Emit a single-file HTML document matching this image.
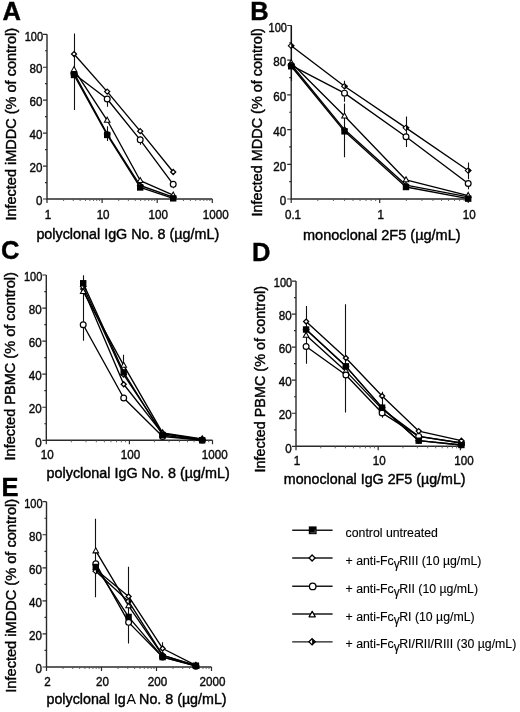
<!DOCTYPE html>
<html><head><meta charset="utf-8"><style>
html,body{margin:0;padding:0;background:#fff;}
svg{display:block;font-family:"Liberation Sans", sans-serif;will-change:transform;}
text{stroke:#000;stroke-width:0.4px;}
.lg text{stroke-width:0.12px;}
</style></head><body>
<svg width="520" height="712" viewBox="0 0 520 712">
<rect width="520" height="712" fill="#fff"/>
<g><path d="M47 34.3V199H212.3" fill="none" stroke="#2a2a2a" stroke-width="1.4"/>
<path d="M47 199H43M47 182.53H45M47 166.06H43M47 149.59H45M47 133.12H43M47 116.65H45M47 100.18H43M47 83.71H45M47 67.24H43M47 50.77H45M47 34.3H43M47 199V203M102.1 199V203M157.2 199V203M212.3 199V203" fill="none" stroke="#2a2a2a" stroke-width="1.2"/>
<path d="M63.59 199V201M73.29 199V201M80.17 199V201M85.51 199V201M89.88 199V201M93.56 199V201M96.76 199V201M99.58 199V201M118.69 199V201M128.39 199V201M135.27 199V201M140.61 199V201M144.98 199V201M148.66 199V201M151.86 199V201M154.68 199V201M173.79 199V201M183.49 199V201M190.37 199V201M195.71 199V201M200.08 199V201M203.76 199V201M206.96 199V201M209.78 199V201" fill="none" stroke="#555" stroke-width="0.9"/>
<g font-size="12.5" fill="#111"><text transform="translate(42.4 205.2) scale(0.93 1)" text-anchor="end">0</text><text transform="translate(42.4 172.26) scale(0.93 1)" text-anchor="end">20</text><text transform="translate(42.4 139.32) scale(0.93 1)" text-anchor="end">40</text><text transform="translate(42.4 106.38) scale(0.93 1)" text-anchor="end">60</text><text transform="translate(42.4 73.44) scale(0.93 1)" text-anchor="end">80</text><text transform="translate(43 40.5) scale(0.88 1)" text-anchor="end">100</text><text transform="translate(48 218.6) scale(0.93 1)" text-anchor="middle">1</text><text transform="translate(103.1 218.6) scale(0.93 1)" text-anchor="middle">10</text><text transform="translate(158.2 218.6) scale(0.93 1)" text-anchor="middle">100</text><text transform="translate(215.8 218.6) scale(0.93 1)" text-anchor="middle">1000</text></g>
<text x="36.4" y="238.6" font-size="13.8" textLength="182.8" lengthAdjust="spacingAndGlyphs">polyclonal IgG No. 8 (µg/mL)</text>
<text transform="translate(16.2 220.6) rotate(-90)" font-size="13.8" textLength="192.6" lengthAdjust="spacingAndGlyphs">Infected iMDDC (% of control)</text>
<text x="2.6" y="19.7" font-size="25.5" font-weight="bold">A</text>
<path d="M74.5 33.48V110.06M107.5 98.53V106.77M107.5 126.2V141.03M140.5 136.41V144.65M173.5 180.88V188.29" fill="none" stroke="#111" stroke-width="1.1"/>
<polyline points="74,73.83 107.2,99.03 140.2,139.87 173.2,184.34" fill="none" stroke="#000" stroke-width="1.35" stroke-linejoin="round"/>
<polyline points="74,54.06 107.2,91.62 140.2,131.14 173.2,171.99" fill="none" stroke="#000" stroke-width="1.35" stroke-linejoin="round"/>
<polyline points="74,73 107.2,133.94 140.2,185.49 173.2,197.02" fill="none" stroke="#000" stroke-width="1.35" stroke-linejoin="round"/>
<polyline points="74,69.71 107.2,120.27 140.2,180.55 173.2,195.21" fill="none" stroke="#000" stroke-width="1.35" stroke-linejoin="round"/>
<polyline points="74,74.98 107.2,134.93 140.2,187.47 173.2,198.34" fill="none" stroke="#000" stroke-width="1.35" stroke-linejoin="round"/>
<circle cx="74" cy="73.83" r="2.9" fill="#fff" stroke="#000" stroke-width="1.2"/>
<circle cx="107.2" cy="99.03" r="2.9" fill="#fff" stroke="#000" stroke-width="1.2"/>
<circle cx="140.2" cy="139.87" r="2.9" fill="#fff" stroke="#000" stroke-width="1.2"/>
<circle cx="173.2" cy="184.34" r="2.9" fill="#fff" stroke="#000" stroke-width="1.2"/>
<path d="M74 51.56L76.5 54.06L74 56.56L71.5 54.06Z" fill="#fff" stroke="#000" stroke-width="1.3"/>
<path d="M107.2 89.12L109.7 91.62L107.2 94.12L104.7 91.62Z" fill="#fff" stroke="#000" stroke-width="1.3"/>
<path d="M140.2 128.64L142.7 131.14L140.2 133.64L137.7 131.14Z" fill="#fff" stroke="#000" stroke-width="1.3"/>
<path d="M173.2 169.49L175.7 171.99L173.2 174.49L170.7 171.99Z" fill="#fff" stroke="#000" stroke-width="1.3"/>
<path d="M74 70.3L76.9 73L74 75.7L71.1 73Z" fill="#fff" stroke="#000" stroke-width="1.05"/><path d="M74 70.3L76.9 73L74 75.7Z" fill="#000"/>
<path d="M107.2 131.24L110.1 133.94L107.2 136.64L104.3 133.94Z" fill="#fff" stroke="#000" stroke-width="1.05"/><path d="M107.2 131.24L110.1 133.94L107.2 136.64Z" fill="#000"/>
<path d="M140.2 182.79L143.1 185.49L140.2 188.19L137.3 185.49Z" fill="#fff" stroke="#000" stroke-width="1.05"/><path d="M140.2 182.79L143.1 185.49L140.2 188.19Z" fill="#000"/>
<path d="M173.2 194.32L176.1 197.02L173.2 199.72L170.3 197.02Z" fill="#fff" stroke="#000" stroke-width="1.05"/><path d="M173.2 194.32L176.1 197.02L173.2 199.72Z" fill="#000"/>
<path d="M74 66.61L76.8 71.61L71.2 71.61Z" fill="#fff" stroke="#000" stroke-width="1.05" stroke-linejoin="miter"/>
<path d="M107.2 117.17L110 122.17L104.4 122.17Z" fill="#fff" stroke="#000" stroke-width="1.05" stroke-linejoin="miter"/>
<path d="M140.2 177.45L143 182.45L137.4 182.45Z" fill="#fff" stroke="#000" stroke-width="1.05" stroke-linejoin="miter"/>
<path d="M173.2 192.11L176 197.11L170.4 197.11Z" fill="#fff" stroke="#000" stroke-width="1.05" stroke-linejoin="miter"/>
<rect x="70.8" y="71.78" width="6.4" height="6.4" fill="#000"/>
<rect x="104" y="131.73" width="6.4" height="6.4" fill="#000"/>
<rect x="137" y="184.27" width="6.4" height="6.4" fill="#000"/>
<rect x="170" y="195.14" width="6.4" height="6.4" fill="#000"/></g>
<g><path d="M291.2 25.5V199H468.2" fill="none" stroke="#2a2a2a" stroke-width="1.4"/>
<path d="M291.2 199H287.2M291.2 181.65H289.2M291.2 164.3H287.2M291.2 146.95H289.2M291.2 129.6H287.2M291.2 112.25H289.2M291.2 94.9H287.2M291.2 77.55H289.2M291.2 60.2H287.2M291.2 42.85H289.2M291.2 25.5H287.2M291.2 199V203M379.7 199V203M468.2 199V203" fill="none" stroke="#2a2a2a" stroke-width="1.2"/>
<path d="M317.84 199V201M333.43 199V201M344.48 199V201M353.06 199V201M360.07 199V201M365.99 199V201M371.12 199V201M375.65 199V201M406.34 199V201M421.93 199V201M432.98 199V201M441.56 199V201M448.57 199V201M454.49 199V201M459.62 199V201M464.15 199V201" fill="none" stroke="#555" stroke-width="0.9"/>
<g font-size="12.5" fill="#111"><text transform="translate(286.3 205.2) scale(0.93 1)" text-anchor="end">0</text><text transform="translate(286.3 170.5) scale(0.93 1)" text-anchor="end">20</text><text transform="translate(286.3 135.8) scale(0.93 1)" text-anchor="end">40</text><text transform="translate(286.3 101.1) scale(0.93 1)" text-anchor="end">60</text><text transform="translate(286.3 66.4) scale(0.93 1)" text-anchor="end">80</text><text transform="translate(286.9 31.7) scale(0.88 1)" text-anchor="end">100</text><text transform="translate(293 218.6) scale(0.93 1)" text-anchor="middle">0.1</text><text transform="translate(380.7 218.6) scale(0.93 1)" text-anchor="middle">1</text><text transform="translate(469.2 218.6) scale(0.93 1)" text-anchor="middle">10</text></g>
<text x="303" y="239.5" font-size="13.8" textLength="157.6" lengthAdjust="spacingAndGlyphs">monoclonal 2F5 (µg/mL)</text>
<text transform="translate(262 216.5) rotate(-90)" font-size="13.8" textLength="188.4" lengthAdjust="spacingAndGlyphs">Infected MDDC (% of control)</text>
<text x="250.3" y="19.8" font-size="25.5" font-weight="bold">B</text>
<path d="M291.5 25.5V81.02M344.5 80.67V86.22M344.5 96.63V101.84M344.5 105.31V119.19M344.5 103.57V157.36M406.5 116.59V146.95M468.5 162.56V179.22M468.5 185.99V189.28" fill="none" stroke="#111" stroke-width="1.1"/>
<polyline points="291.2,64.54 344.5,129.6 406,185.12 468.2,196.92" fill="none" stroke="#000" stroke-width="1.35" stroke-linejoin="round"/>
<polyline points="291.2,62.8 344.5,116.07 406,179.91 468.2,195.53" fill="none" stroke="#000" stroke-width="1.35" stroke-linejoin="round"/>
<polyline points="291.2,65.41 344.5,93.16 406,136.71 468.2,183.56" fill="none" stroke="#000" stroke-width="1.35" stroke-linejoin="round"/>
<polyline points="291.2,45.8 344.5,86.22 406,127.86 468.2,170.55" fill="none" stroke="#000" stroke-width="1.35" stroke-linejoin="round"/>
<polyline points="291.2,66.27 344.5,131.33 406,187.03 468.2,198.65" fill="none" stroke="#000" stroke-width="1.35" stroke-linejoin="round"/>
<path d="M291.2 62.04L293.7 64.54L291.2 67.04L288.7 64.54Z" fill="#fff" stroke="#000" stroke-width="1.3"/>
<path d="M344.5 127.1L347 129.6L344.5 132.1L342 129.6Z" fill="#fff" stroke="#000" stroke-width="1.3"/>
<path d="M406 182.62L408.5 185.12L406 187.62L403.5 185.12Z" fill="#fff" stroke="#000" stroke-width="1.3"/>
<path d="M468.2 194.42L470.7 196.92L468.2 199.42L465.7 196.92Z" fill="#fff" stroke="#000" stroke-width="1.3"/>
<path d="M291.2 59.7L294 64.7L288.4 64.7Z" fill="#fff" stroke="#000" stroke-width="1.05" stroke-linejoin="miter"/>
<path d="M344.5 112.97L347.3 117.97L341.7 117.97Z" fill="#fff" stroke="#000" stroke-width="1.05" stroke-linejoin="miter"/>
<path d="M406 176.81L408.8 181.81L403.2 181.81Z" fill="#fff" stroke="#000" stroke-width="1.05" stroke-linejoin="miter"/>
<path d="M468.2 192.43L471 197.43L465.4 197.43Z" fill="#fff" stroke="#000" stroke-width="1.05" stroke-linejoin="miter"/>
<circle cx="291.2" cy="65.41" r="2.9" fill="#fff" stroke="#000" stroke-width="1.2"/>
<circle cx="344.5" cy="93.16" r="2.9" fill="#fff" stroke="#000" stroke-width="1.2"/>
<circle cx="406" cy="136.71" r="2.9" fill="#fff" stroke="#000" stroke-width="1.2"/>
<circle cx="468.2" cy="183.56" r="2.9" fill="#fff" stroke="#000" stroke-width="1.2"/>
<path d="M291.2 43.1L294.1 45.8L291.2 48.5L288.3 45.8Z" fill="#fff" stroke="#000" stroke-width="1.05"/><path d="M291.2 43.1L294.1 45.8L291.2 48.5Z" fill="#000"/>
<path d="M344.5 83.52L347.4 86.22L344.5 88.92L341.6 86.22Z" fill="#fff" stroke="#000" stroke-width="1.05"/><path d="M344.5 83.52L347.4 86.22L344.5 88.92Z" fill="#000"/>
<path d="M406 125.16L408.9 127.86L406 130.56L403.1 127.86Z" fill="#fff" stroke="#000" stroke-width="1.05"/><path d="M406 125.16L408.9 127.86L406 130.56Z" fill="#000"/>
<path d="M468.2 167.85L471.1 170.55L468.2 173.25L465.3 170.55Z" fill="#fff" stroke="#000" stroke-width="1.05"/><path d="M468.2 167.85L471.1 170.55L468.2 173.25Z" fill="#000"/>
<rect x="288" y="63.07" width="6.4" height="6.4" fill="#000"/>
<rect x="341.3" y="128.13" width="6.4" height="6.4" fill="#000"/>
<rect x="402.8" y="183.83" width="6.4" height="6.4" fill="#000"/>
<rect x="465" y="195.45" width="6.4" height="6.4" fill="#000"/></g>
<g><path d="M46.3 275V440.3H212.5" fill="none" stroke="#2a2a2a" stroke-width="1.4"/>
<path d="M46.3 440.3H42.3M46.3 423.77H44.3M46.3 407.24H42.3M46.3 390.71H44.3M46.3 374.18H42.3M46.3 357.65H44.3M46.3 341.12H42.3M46.3 324.59H44.3M46.3 308.06H42.3M46.3 291.53H44.3M46.3 275H42.3M46.3 440.3V444.3M129.4 440.3V444.3M212.5 440.3V444.3" fill="none" stroke="#2a2a2a" stroke-width="1.2"/>
<path d="M71.32 440.3V442.3M85.95 440.3V442.3M96.33 440.3V442.3M104.38 440.3V442.3M110.96 440.3V442.3M116.53 440.3V442.3M121.35 440.3V442.3M125.6 440.3V442.3M154.42 440.3V442.3M169.05 440.3V442.3M179.43 440.3V442.3M187.48 440.3V442.3M194.06 440.3V442.3M199.63 440.3V442.3M204.45 440.3V442.3M208.7 440.3V442.3" fill="none" stroke="#555" stroke-width="0.9"/>
<g font-size="12.5" fill="#111"><text transform="translate(41.7 446.5) scale(0.93 1)" text-anchor="end">0</text><text transform="translate(41.7 413.44) scale(0.93 1)" text-anchor="end">20</text><text transform="translate(41.7 380.38) scale(0.93 1)" text-anchor="end">40</text><text transform="translate(41.7 347.32) scale(0.93 1)" text-anchor="end">60</text><text transform="translate(41.7 314.26) scale(0.93 1)" text-anchor="end">80</text><text transform="translate(42.3 281.2) scale(0.88 1)" text-anchor="end">100</text><text transform="translate(47.3 459.2) scale(0.93 1)" text-anchor="middle">10</text><text transform="translate(130.4 459.2) scale(0.93 1)" text-anchor="middle">100</text><text transform="translate(214.7 459.2) scale(0.93 1)" text-anchor="middle">1000</text></g>
<text x="46.5" y="477.5" font-size="13.8" textLength="183.3" lengthAdjust="spacingAndGlyphs">polyclonal IgG No. 8 (µg/mL)</text>
<text transform="translate(14.9 460.5) rotate(-90)" font-size="13.8" textLength="188.3" lengthAdjust="spacingAndGlyphs">Infected PBMC (% of control)</text>
<text x="0.9" y="258.8" font-size="25.5" font-weight="bold">C</text>
<path d="M83.5 275.33V340.79M123.5 354.84V365.92M202.5 436.99V440.3" fill="none" stroke="#111" stroke-width="1.1"/>
<polyline points="83.2,324.76 123.7,397.98 162.6,436.5 202.2,439.97" fill="none" stroke="#000" stroke-width="1.35" stroke-linejoin="round"/>
<polyline points="83.2,289.05 123.7,384.26 162.6,433.69 202.2,439.31" fill="none" stroke="#000" stroke-width="1.35" stroke-linejoin="round"/>
<polyline points="83.2,291.53 123.7,365.42 162.6,432.86 202.2,438.98" fill="none" stroke="#000" stroke-width="1.35" stroke-linejoin="round"/>
<polyline points="83.2,286.57 123.7,374.51 162.6,433.36 202.2,439.8" fill="none" stroke="#000" stroke-width="1.35" stroke-linejoin="round"/>
<polyline points="83.2,283.26 123.7,372.36 162.6,435.01 202.2,440.3" fill="none" stroke="#000" stroke-width="1.35" stroke-linejoin="round"/>
<circle cx="83.2" cy="324.76" r="2.9" fill="#fff" stroke="#000" stroke-width="1.2"/>
<circle cx="123.7" cy="397.98" r="2.9" fill="#fff" stroke="#000" stroke-width="1.2"/>
<circle cx="162.6" cy="436.5" r="2.9" fill="#fff" stroke="#000" stroke-width="1.2"/>
<circle cx="202.2" cy="439.97" r="2.9" fill="#fff" stroke="#000" stroke-width="1.2"/>
<path d="M83.2 286.55L85.7 289.05L83.2 291.55L80.7 289.05Z" fill="#fff" stroke="#000" stroke-width="1.3"/>
<path d="M123.7 381.76L126.2 384.26L123.7 386.76L121.2 384.26Z" fill="#fff" stroke="#000" stroke-width="1.3"/>
<path d="M162.6 431.19L165.1 433.69L162.6 436.19L160.1 433.69Z" fill="#fff" stroke="#000" stroke-width="1.3"/>
<path d="M202.2 436.81L204.7 439.31L202.2 441.81L199.7 439.31Z" fill="#fff" stroke="#000" stroke-width="1.3"/>
<path d="M83.2 288.43L86 293.43L80.4 293.43Z" fill="#fff" stroke="#000" stroke-width="1.05" stroke-linejoin="miter"/>
<path d="M123.7 362.32L126.5 367.32L120.9 367.32Z" fill="#fff" stroke="#000" stroke-width="1.05" stroke-linejoin="miter"/>
<path d="M162.6 429.76L165.4 434.76L159.8 434.76Z" fill="#fff" stroke="#000" stroke-width="1.05" stroke-linejoin="miter"/>
<path d="M202.2 435.88L205 440.88L199.4 440.88Z" fill="#fff" stroke="#000" stroke-width="1.05" stroke-linejoin="miter"/>
<path d="M83.2 283.87L86.1 286.57L83.2 289.27L80.3 286.57Z" fill="#fff" stroke="#000" stroke-width="1.05"/><path d="M83.2 283.87L86.1 286.57L83.2 289.27Z" fill="#000"/>
<path d="M123.7 371.81L126.6 374.51L123.7 377.21L120.8 374.51Z" fill="#fff" stroke="#000" stroke-width="1.05"/><path d="M123.7 371.81L126.6 374.51L123.7 377.21Z" fill="#000"/>
<path d="M162.6 430.66L165.5 433.36L162.6 436.06L159.7 433.36Z" fill="#fff" stroke="#000" stroke-width="1.05"/><path d="M162.6 430.66L165.5 433.36L162.6 436.06Z" fill="#000"/>
<path d="M202.2 437.1L205.1 439.8L202.2 442.5L199.3 439.8Z" fill="#fff" stroke="#000" stroke-width="1.05"/><path d="M202.2 437.1L205.1 439.8L202.2 442.5Z" fill="#000"/>
<rect x="80" y="280.06" width="6.4" height="6.4" fill="#000"/>
<rect x="120.5" y="369.16" width="6.4" height="6.4" fill="#000"/>
<rect x="159.4" y="431.81" width="6.4" height="6.4" fill="#000"/>
<rect x="199" y="437.1" width="6.4" height="6.4" fill="#000"/></g>
<g><path d="M296 281.1V446.3H460.4" fill="none" stroke="#2a2a2a" stroke-width="1.4"/>
<path d="M296 446.3H292M296 429.78H294M296 413.26H292M296 396.74H294M296 380.22H292M296 363.7H294M296 347.18H292M296 330.66H294M296 314.14H292M296 297.62H294M296 281.1H292M296 446.3V450.3M378.2 446.3V450.3M460.4 446.3V450.3" fill="none" stroke="#2a2a2a" stroke-width="1.2"/>
<path d="M320.74 446.3V448.3M335.22 446.3V448.3M345.49 446.3V448.3M353.46 446.3V448.3M359.96 446.3V448.3M365.47 446.3V448.3M370.23 446.3V448.3M374.44 446.3V448.3M402.94 446.3V448.3M417.42 446.3V448.3M427.69 446.3V448.3M435.66 446.3V448.3M442.16 446.3V448.3M447.67 446.3V448.3M452.43 446.3V448.3M456.64 446.3V448.3" fill="none" stroke="#555" stroke-width="0.9"/>
<g font-size="12.5" fill="#111"><text transform="translate(291.6 452.5) scale(0.93 1)" text-anchor="end">0</text><text transform="translate(291.6 419.46) scale(0.93 1)" text-anchor="end">20</text><text transform="translate(291.6 386.42) scale(0.93 1)" text-anchor="end">40</text><text transform="translate(291.6 353.38) scale(0.93 1)" text-anchor="end">60</text><text transform="translate(291.6 320.34) scale(0.93 1)" text-anchor="end">80</text><text transform="translate(292.2 287.3) scale(0.88 1)" text-anchor="end">100</text><text transform="translate(297 464.5) scale(0.93 1)" text-anchor="middle">1</text><text transform="translate(379.2 464.5) scale(0.93 1)" text-anchor="middle">10</text><text transform="translate(463.9 464.5) scale(0.93 1)" text-anchor="middle">100</text></g>
<text x="283.8" y="484.2" font-size="13.8" textLength="181.8" lengthAdjust="spacingAndGlyphs">monoclonal IgG 2F5 (µg/mL)</text>
<text transform="translate(264.5 472.5) rotate(-90)" font-size="13.8" textLength="186.5" lengthAdjust="spacingAndGlyphs">Infected PBMC (% of control)</text>
<text x="252" y="260.8" font-size="25.5" font-weight="bold">D</text>
<path d="M306.5 305.88V363.7M345.5 304.23V412.6M382.5 391.78V417.72M418.5 428.95V443.82M461.5 439.69V446.3" fill="none" stroke="#111" stroke-width="1.1"/>
<polyline points="306.1,329.5 345.9,366.34 382.1,407.64 418.7,440.68 461.4,444.98" fill="none" stroke="#000" stroke-width="1.35" stroke-linejoin="round"/>
<polyline points="306.1,335.29 345.9,371.13 382.1,409.13 418.7,436.39 461.4,443" fill="none" stroke="#000" stroke-width="1.35" stroke-linejoin="round"/>
<polyline points="306.1,346.52 345.9,374.93 382.1,412.93 418.7,436.39 461.4,443" fill="none" stroke="#000" stroke-width="1.35" stroke-linejoin="round"/>
<polyline points="306.1,329.5 345.9,366.34 382.1,407.64 418.7,440.68 461.4,444.98" fill="none" stroke="#000" stroke-width="1.35" stroke-linejoin="round"/>
<polyline points="306.1,321.57 345.9,358.08 382.1,396.08 418.7,431.1 461.4,440.68" fill="none" stroke="#000" stroke-width="1.35" stroke-linejoin="round"/>
<path d="M306.1 326.8L309 329.5L306.1 332.2L303.2 329.5Z" fill="#fff" stroke="#000" stroke-width="1.05"/><path d="M306.1 326.8L309 329.5L306.1 332.2Z" fill="#000"/>
<path d="M345.9 363.64L348.8 366.34L345.9 369.04L343 366.34Z" fill="#fff" stroke="#000" stroke-width="1.05"/><path d="M345.9 363.64L348.8 366.34L345.9 369.04Z" fill="#000"/>
<path d="M382.1 404.94L385 407.64L382.1 410.34L379.2 407.64Z" fill="#fff" stroke="#000" stroke-width="1.05"/><path d="M382.1 404.94L385 407.64L382.1 410.34Z" fill="#000"/>
<path d="M418.7 437.98L421.6 440.68L418.7 443.38L415.8 440.68Z" fill="#fff" stroke="#000" stroke-width="1.05"/><path d="M418.7 437.98L421.6 440.68L418.7 443.38Z" fill="#000"/>
<path d="M461.4 442.28L464.3 444.98L461.4 447.68L458.5 444.98Z" fill="#fff" stroke="#000" stroke-width="1.05"/><path d="M461.4 442.28L464.3 444.98L461.4 447.68Z" fill="#000"/>
<path d="M306.1 332.19L308.9 337.19L303.3 337.19Z" fill="#fff" stroke="#000" stroke-width="1.05" stroke-linejoin="miter"/>
<path d="M345.9 368.03L348.7 373.03L343.1 373.03Z" fill="#fff" stroke="#000" stroke-width="1.05" stroke-linejoin="miter"/>
<path d="M382.1 406.03L384.9 411.03L379.3 411.03Z" fill="#fff" stroke="#000" stroke-width="1.05" stroke-linejoin="miter"/>
<path d="M418.7 433.29L421.5 438.29L415.9 438.29Z" fill="#fff" stroke="#000" stroke-width="1.05" stroke-linejoin="miter"/>
<path d="M461.4 439.9L464.2 444.9L458.6 444.9Z" fill="#fff" stroke="#000" stroke-width="1.05" stroke-linejoin="miter"/>
<circle cx="306.1" cy="346.52" r="2.9" fill="#fff" stroke="#000" stroke-width="1.2"/>
<circle cx="345.9" cy="374.93" r="2.9" fill="#fff" stroke="#000" stroke-width="1.2"/>
<circle cx="382.1" cy="412.93" r="2.9" fill="#fff" stroke="#000" stroke-width="1.2"/>
<circle cx="418.7" cy="436.39" r="2.9" fill="#fff" stroke="#000" stroke-width="1.2"/>
<circle cx="461.4" cy="443" r="2.9" fill="#fff" stroke="#000" stroke-width="1.2"/>
<rect x="302.9" y="326.3" width="6.4" height="6.4" fill="#000"/>
<rect x="342.7" y="363.14" width="6.4" height="6.4" fill="#000"/>
<rect x="378.9" y="404.44" width="6.4" height="6.4" fill="#000"/>
<rect x="415.5" y="437.48" width="6.4" height="6.4" fill="#000"/>
<rect x="458.2" y="441.78" width="6.4" height="6.4" fill="#000"/>
<path d="M306.1 319.07L308.6 321.57L306.1 324.07L303.6 321.57Z" fill="#fff" stroke="#000" stroke-width="1.3"/>
<path d="M345.9 355.58L348.4 358.08L345.9 360.58L343.4 358.08Z" fill="#fff" stroke="#000" stroke-width="1.3"/>
<path d="M382.1 393.58L384.6 396.08L382.1 398.58L379.6 396.08Z" fill="#fff" stroke="#000" stroke-width="1.3"/>
<path d="M418.7 428.6L421.2 431.1L418.7 433.6L416.2 431.1Z" fill="#fff" stroke="#000" stroke-width="1.3"/>
<path d="M461.4 438.18L463.9 440.68L461.4 443.18L458.9 440.68Z" fill="#fff" stroke="#000" stroke-width="1.3"/></g>
<g><path d="M46.5 501.7V667H211.5" fill="none" stroke="#2a2a2a" stroke-width="1.4"/>
<path d="M46.5 667H42.5M46.5 650.47H44.5M46.5 633.94H42.5M46.5 617.41H44.5M46.5 600.88H42.5M46.5 584.35H44.5M46.5 567.82H42.5M46.5 551.29H44.5M46.5 534.76H42.5M46.5 518.23H44.5M46.5 501.7H42.5M46.5 667V671M101.5 667V671M156.5 667V671M211.5 667V671" fill="none" stroke="#2a2a2a" stroke-width="1.2"/>
<path d="M63.06 667V669M72.74 667V669M79.61 667V669M84.94 667V669M89.3 667V669M92.98 667V669M96.17 667V669M98.98 667V669M118.06 667V669M127.74 667V669M134.61 667V669M139.94 667V669M144.3 667V669M147.98 667V669M151.17 667V669M153.98 667V669M173.06 667V669M182.74 667V669M189.61 667V669M194.94 667V669M199.3 667V669M202.98 667V669M206.17 667V669M208.98 667V669" fill="none" stroke="#555" stroke-width="0.9"/>
<g font-size="12.5" fill="#111"><text transform="translate(41.9 673.2) scale(0.93 1)" text-anchor="end">0</text><text transform="translate(41.9 640.14) scale(0.93 1)" text-anchor="end">20</text><text transform="translate(41.9 607.08) scale(0.93 1)" text-anchor="end">40</text><text transform="translate(41.9 574.02) scale(0.93 1)" text-anchor="end">60</text><text transform="translate(41.9 540.96) scale(0.93 1)" text-anchor="end">80</text><text transform="translate(42.5 507.9) scale(0.88 1)" text-anchor="end">100</text><text transform="translate(47.5 685.5) scale(0.93 1)" text-anchor="middle">2</text><text transform="translate(102.5 685.5) scale(0.93 1)" text-anchor="middle">20</text><text transform="translate(157.5 685.5) scale(0.93 1)" text-anchor="middle">200</text><text transform="translate(212.5 685.5) scale(0.93 1)" text-anchor="middle">2000</text></g>
<text x="46.5" y="704" font-size="13.8" textLength="180.1" lengthAdjust="spacingAndGlyphs">polyclonal Ig<tspan dx="0.6" style="stroke-width:0">A</tspan> No. 8 (µg/mL)</text>
<text transform="translate(16.3 692.7) rotate(-90)" font-size="13.8" textLength="193.8" lengthAdjust="spacingAndGlyphs">Infected iMDDC (% of control)</text>
<text x="1.5" y="495.9" font-size="25.5" font-weight="bold">E</text>
<path d="M95.5 518.73V597.24M128.5 566.83V643.53M162.5 642.21V648.49" fill="none" stroke="#111" stroke-width="1.1"/>
<polyline points="95.8,563.69 128.6,622.37 162.6,657.08 195.9,666.17" fill="none" stroke="#000" stroke-width="1.35" stroke-linejoin="round"/>
<polyline points="95.8,550.96 128.6,605.84 162.6,655.43 195.9,665.35" fill="none" stroke="#000" stroke-width="1.35" stroke-linejoin="round"/>
<polyline points="95.8,569.47 128.6,596.42 162.6,648.49 195.9,665.35" fill="none" stroke="#000" stroke-width="1.35" stroke-linejoin="round"/>
<polyline points="95.8,571.13 128.6,601.38 162.6,655.1 195.9,666.01" fill="none" stroke="#000" stroke-width="1.35" stroke-linejoin="round"/>
<polyline points="95.8,566.99 128.6,616.91 162.6,657.08 195.9,665.68" fill="none" stroke="#000" stroke-width="1.35" stroke-linejoin="round"/>
<circle cx="95.8" cy="563.69" r="2.9" fill="#fff" stroke="#000" stroke-width="1.2"/>
<circle cx="128.6" cy="622.37" r="2.9" fill="#fff" stroke="#000" stroke-width="1.2"/>
<circle cx="162.6" cy="657.08" r="2.9" fill="#fff" stroke="#000" stroke-width="1.2"/>
<circle cx="195.9" cy="666.17" r="2.9" fill="#fff" stroke="#000" stroke-width="1.2"/>
<path d="M95.8 547.86L98.6 552.86L93 552.86Z" fill="#fff" stroke="#000" stroke-width="1.05" stroke-linejoin="miter"/>
<path d="M128.6 602.74L131.4 607.74L125.8 607.74Z" fill="#fff" stroke="#000" stroke-width="1.05" stroke-linejoin="miter"/>
<path d="M162.6 652.33L165.4 657.33L159.8 657.33Z" fill="#fff" stroke="#000" stroke-width="1.05" stroke-linejoin="miter"/>
<path d="M195.9 662.25L198.7 667.25L193.1 667.25Z" fill="#fff" stroke="#000" stroke-width="1.05" stroke-linejoin="miter"/>
<path d="M95.8 566.97L98.3 569.47L95.8 571.97L93.3 569.47Z" fill="#fff" stroke="#000" stroke-width="1.3"/>
<path d="M128.6 593.92L131.1 596.42L128.6 598.92L126.1 596.42Z" fill="#fff" stroke="#000" stroke-width="1.3"/>
<path d="M162.6 645.99L165.1 648.49L162.6 650.99L160.1 648.49Z" fill="#fff" stroke="#000" stroke-width="1.3"/>
<path d="M195.9 662.85L198.4 665.35L195.9 667.85L193.4 665.35Z" fill="#fff" stroke="#000" stroke-width="1.3"/>
<path d="M95.8 568.43L98.7 571.13L95.8 573.83L92.9 571.13Z" fill="#fff" stroke="#000" stroke-width="1.05"/><path d="M95.8 568.43L98.7 571.13L95.8 573.83Z" fill="#000"/>
<path d="M128.6 598.68L131.5 601.38L128.6 604.08L125.7 601.38Z" fill="#fff" stroke="#000" stroke-width="1.05"/><path d="M128.6 598.68L131.5 601.38L128.6 604.08Z" fill="#000"/>
<path d="M162.6 652.4L165.5 655.1L162.6 657.8L159.7 655.1Z" fill="#fff" stroke="#000" stroke-width="1.05"/><path d="M162.6 652.4L165.5 655.1L162.6 657.8Z" fill="#000"/>
<path d="M195.9 663.31L198.8 666.01L195.9 668.71L193 666.01Z" fill="#fff" stroke="#000" stroke-width="1.05"/><path d="M195.9 663.31L198.8 666.01L195.9 668.71Z" fill="#000"/>
<rect x="92.6" y="563.79" width="6.4" height="6.4" fill="#000"/>
<rect x="125.4" y="613.71" width="6.4" height="6.4" fill="#000"/>
<rect x="159.4" y="653.88" width="6.4" height="6.4" fill="#000"/>
<rect x="192.7" y="662.48" width="6.4" height="6.4" fill="#000"/></g>
<g class="lg" font-size="12.3" fill="#000"><path d="M292.2 530.2H332.6" stroke="#1a1a1a" stroke-width="1.35"/><rect x="308.8" y="526.4" width="7.8" height="7.8" fill="#000"/><path d="M310.3 532.8H315.1V529.7" fill="none" stroke="#777" stroke-width="0.7"/><text x="345.6" y="536.8">control untreated</text><path d="M292.2 558H332.6" stroke="#1a1a1a" stroke-width="1.35"/><path d="M312.1 555L315.1 558L312.1 561L309.1 558Z" fill="#fff" stroke="#000" stroke-width="1.3"/><text x="345.6" y="564.6">+ anti-Fc<tspan font-size="12" dy="3">γ</tspan><tspan dy="-3" dx="-0.6">RIII (10 µg/mL)</tspan></text><path d="M292.2 586.2H332.6" stroke="#1a1a1a" stroke-width="1.35"/><circle cx="312.7" cy="586.4" r="3.25" fill="#fff" stroke="#000" stroke-width="1.3"/><text x="345.6" y="592.8">+ anti-Fc<tspan font-size="12" dy="3">γ</tspan><tspan dy="-3" dx="-0.6">RII (10 µg/mL)</tspan></text><path d="M292.2 614H332.6" stroke="#1a1a1a" stroke-width="1.35"/><path d="M312.2 611.4L315.3 616.8L309.1 616.8Z" fill="#fff" stroke="#000" stroke-width="1.3" stroke-linejoin="round"/><text x="345.6" y="620.6">+ anti-Fc<tspan font-size="12" dy="3">γ</tspan><tspan dy="-3" dx="-0.6">RI (10 µg/mL)</tspan></text><path d="M292.2 641.8H332.6" stroke="#1a1a1a" stroke-width="1.35"/><path d="M312.1 638.7L315.3 641.8L312.1 644.9L308.9 641.8Z" fill="#fff" stroke="#000" stroke-width="1.3"/><path d="M312.1 638.7L315.3 641.8L312.1 644.9Z" fill="#000"/><text x="345.6" y="648.4">+ anti-Fc<tspan font-size="12" dy="3">γ</tspan><tspan dy="-3" dx="-0.6">RI/RII/RIII (30 µg/mL)</tspan></text></g>
</svg>
</body></html>
